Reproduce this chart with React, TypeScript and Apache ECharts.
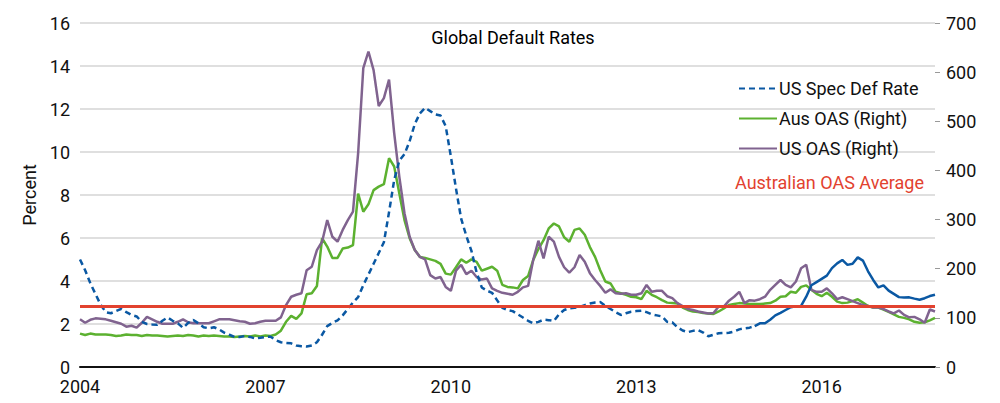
import React, { useEffect, useRef } from "react";
import * as echarts from "echarts";

const START_YEAR = 2004;
const N_MONTHS = 167;
const months: string[] = [];
for (let i = 0; i < N_MONTHS; i++) {
  const y = START_YEAR + Math.floor(i / 12);
  const m = (i % 12) + 1;
  months.push(`${y}-${m < 10 ? "0" + m : m}`);
}
const xTickYears = ["2004", "2007", "2010", "2013", "2016"];

// US speculative-grade default rate, % (left axis)
const usSpecDefRate = [
  5.0, 4.5, 3.9, 3.4, 2.9, 2.55, 2.5, 2.6, 2.7, 2.55, 2.42, 2.35,
  2.1, 2.0, 1.98, 1.97, 2.15, 2.3, 2.15, 2.03, 1.82, 2.05, 2.19, 2.03,
  1.85, 1.8, 1.85, 1.75, 1.6, 1.5, 1.4, 1.4, 1.44, 1.4, 1.33, 1.36,
  1.4, 1.41, 1.25, 1.15, 1.12, 1.1, 1.0, 0.97, 0.95, 1.0, 1.15, 1.5,
  1.9, 2.05, 2.17, 2.4, 2.7, 3.0, 3.25, 3.8, 4.3, 4.8, 5.3, 5.8,
  7.2, 8.7, 9.6, 9.9, 10.5, 11.3, 11.8, 12.05, 11.9, 11.75, 11.7, 11.2,
  9.8, 8.3, 6.9, 6.1, 5.4, 4.4, 3.7, 3.55, 3.45, 3.1, 2.75, 2.65,
  2.6, 2.45, 2.3, 2.15, 2.03, 2.1, 2.2, 2.18, 2.14, 2.45, 2.65, 2.73,
  2.75, 2.8, 2.88, 2.95, 3.0, 3.02, 2.85, 2.7, 2.55, 2.42, 2.5, 2.57,
  2.6, 2.62, 2.55, 2.45, 2.4, 2.35, 2.1, 2.08, 1.85, 1.7, 1.62, 1.68,
  1.72, 1.6, 1.43, 1.5, 1.57, 1.58, 1.59, 1.65, 1.75, 1.8, 1.83, 1.9,
  2.03, 2.03, 2.2, 2.4, 2.52, 2.65, 2.78, 2.82, 2.84, 3.27, 3.8, 3.95,
  4.1, 4.25, 4.6, 4.82, 4.98, 4.75, 4.8, 5.1, 4.95, 4.45, 4.05, 3.7,
  3.8, 3.55, 3.4, 3.25, 3.23, 3.24, 3.18, 3.13, 3.2, 3.3, 3.36,
];
const SOLID_FROM = 131; // index where the default-rate line turns solid

// Australian OAS, bps (right axis)
const ausOAS = [
  68, 65, 68, 66, 66, 66, 65, 63, 64, 66, 65, 65,
  63, 65, 64, 64, 63, 62, 63, 64, 63, 65, 64, 62,
  64, 63, 64, 63, 62, 62, 61, 62, 63, 62, 64, 62,
  64, 63, 66, 74, 92, 104, 98, 109, 148, 150, 165, 262,
  245, 222, 222, 241, 243, 248, 353, 316, 331, 360, 367, 372,
  425, 408, 353, 299, 262, 238, 224, 222, 219, 216, 210, 190,
  188, 203, 219, 212, 219, 214, 196, 200, 204, 196, 167, 163,
  162, 160, 177, 185, 218, 240, 258, 282, 292, 286, 264, 255,
  279, 282, 269, 244, 224, 197, 174, 170, 153, 150, 147, 143,
  142, 138, 155, 147, 142, 136, 131, 130, 129, 121, 116, 113,
  112, 110, 109, 108, 113, 119, 126, 128, 130, 129, 128, 128,
  128, 129, 130, 135, 143, 144, 153, 151, 163, 166, 157, 149,
  144, 151, 143, 133, 130, 131, 134, 138, 131, 124, 121, 121,
  117, 112, 107, 102, 100, 97, 92, 90, 91, 95, 100,
];

// US OAS, bps (right axis)
const usOAS = [
  97, 90, 96, 99, 98, 97, 94, 91, 88, 82, 84, 80,
  90, 102, 97, 92, 88, 88, 88, 92, 97, 91, 89, 89,
  89, 89, 93, 97, 97, 97, 95, 93, 92, 88, 89, 92,
  94, 94, 94, 101, 126, 143, 147, 150, 197, 204, 238, 255,
  299, 265, 255, 279, 299, 316, 435, 608, 642, 604, 531, 547,
  585, 476, 387, 313, 265, 238, 224, 219, 187, 180, 183, 163,
  155, 196, 208, 189, 196, 183, 178, 180, 160, 155, 151, 149,
  147, 153, 162, 165, 218, 257, 221, 265, 255, 224, 203, 192,
  203, 228, 214, 191, 177, 165, 151, 158, 150, 149, 150, 147,
  147, 150, 167, 153, 155, 155, 144, 140, 130, 124, 118, 116,
  113, 111, 109, 110, 123, 123, 135, 143, 153, 130, 136, 135,
  138, 143, 157, 167, 177, 167, 162, 174, 201, 208, 157, 153,
  153, 160, 150, 138, 142, 138, 134, 130, 126, 124, 121, 121,
  118, 113, 109, 115, 106, 101, 102, 97, 90, 117, 113,
];

const ausOASAverage = 123;

const FONT = 'Roboto, "Noto Sans", sans-serif';
const BLUE = "#0a58a3";
const GREEN = "#5cb130";
const PURPLE = "#80638f";
const RED = "#e2422f";

export default function App() {
  const ref = useRef<HTMLDivElement>(null);
  useEffect(() => {
    if (!ref.current) return;
    const chart = echarts.init(ref.current, undefined, { renderer: "svg" });
    const dashed = usSpecDefRate.map((v, i) => (i <= SOLID_FROM ? v : null));
    const solid = usSpecDefRate.map((v, i) => (i >= SOLID_FROM ? v : null));
    chart.setOption({
      animation: false,
      backgroundColor: "#ffffff",
      textStyle: { fontFamily: FONT },
      title: {
        text: "Global Default Rates",
        left: 508,
        top: 23,
        textAlign: "center",
        textStyle: { fontFamily: FONT, fontSize: 18, fontWeight: "normal", color: "#000" },
      },
      legend: {
        data: ["US Spec Def Rate", "Aus OAS (Right)", "US OAS (Right)"],
        orient: "vertical",
        left: 733,
        top: 73,
        itemWidth: 38,
        itemHeight: 14,
        itemGap: 9,
        itemStyle: { opacity: 0 },
        textStyle: { fontFamily: FONT, fontSize: 18, color: "#111", padding: [0, 0, 0, -3], lineHeight: 21 },
      },
      graphic: [
        {
          type: "text",
          left: 735,
          top: 173,
          style: { text: "Australian OAS Average", fill: RED, fontFamily: FONT, fontSize: 18 },
        },
      ],
      grid: { left: 80, right: 65, top: 23, bottom: 36 },
      xAxis: {
        type: "category",
        data: months,
        boundaryGap: false,
        axisLine: { lineStyle: { color: "#111", width: 2 } },
        axisTick: { show: false },
        axisLabel: {
          interval: (idx: number) => idx % 36 === 0,
          formatter: (v: string) => {
            const y = v.slice(0, 4);
            return xTickYears.includes(y) ? y : "";
          },
          color: "#111",
          fontFamily: FONT,
          fontSize: 18,
          margin: 10,
        },
        splitLine: { show: false },
      },
      yAxis: [
        {
          type: "value",
          min: 0,
          max: 16,
          interval: 2,
          name: "Percent",
          nameLocation: "middle",
          nameGap: 42,
          nameRotate: 90,
          nameTextStyle: { fontFamily: FONT, fontSize: 18, color: "#111" },
          axisLine: { show: false },
          axisTick: { show: false },
          axisLabel: { color: "#111", fontFamily: FONT, fontSize: 18, margin: 10 },
          splitLine: { lineStyle: { color: "#d4d4d4", width: 1.5 } },
        },
        {
          type: "value",
          min: 0,
          max: 700,
          interval: 100,
          position: "right",
          axisLine: { show: false },
          axisTick: { show: true, length: 5, lineStyle: { color: "#999", width: 1 } },
          axisLabel: { color: "#111", fontFamily: FONT, fontSize: 18, margin: 11 },
          splitLine: { show: false },
        },
      ],
      series: [
        {
          name: "US Spec Def Rate",
          type: "line",
          yAxisIndex: 0,
          data: dashed,
          showSymbol: false,
          symbol: "none",
          lineStyle: { color: BLUE, width: 2.5, type: [6, 4] },
          itemStyle: { color: BLUE },
          z: 3,
        },
        {
          name: "US Spec Def Rate (solid)",
          type: "line",
          yAxisIndex: 0,
          data: solid,
          showSymbol: false,
          symbol: "none",
          lineStyle: { color: BLUE, width: 2.5 },
          itemStyle: { color: BLUE },
          z: 3,
        },
        {
          name: "Aus OAS (Right)",
          type: "line",
          yAxisIndex: 1,
          data: ausOAS,
          showSymbol: false,
          symbol: "none",
          lineStyle: { color: GREEN, width: 2.5 },
          itemStyle: { color: GREEN },
          z: 2,
          markLine: {
            silent: true,
            symbol: "none",
            label: { show: false },
            lineStyle: { color: RED, width: 3, type: "solid" },
            data: [{ yAxis: ausOASAverage }],
            z: 5,
          },
        },
        {
          name: "US OAS (Right)",
          type: "line",
          yAxisIndex: 1,
          data: usOAS,
          showSymbol: false,
          symbol: "none",
          lineStyle: { color: PURPLE, width: 2.5 },
          itemStyle: { color: PURPLE },
          z: 2,
        },
      ],
    });
    return () => chart.dispose();
  }, []);
  return <div ref={ref} style={{ width: 1000, height: 403, position: "fixed", left: 0, top: 0 }} />;
}
